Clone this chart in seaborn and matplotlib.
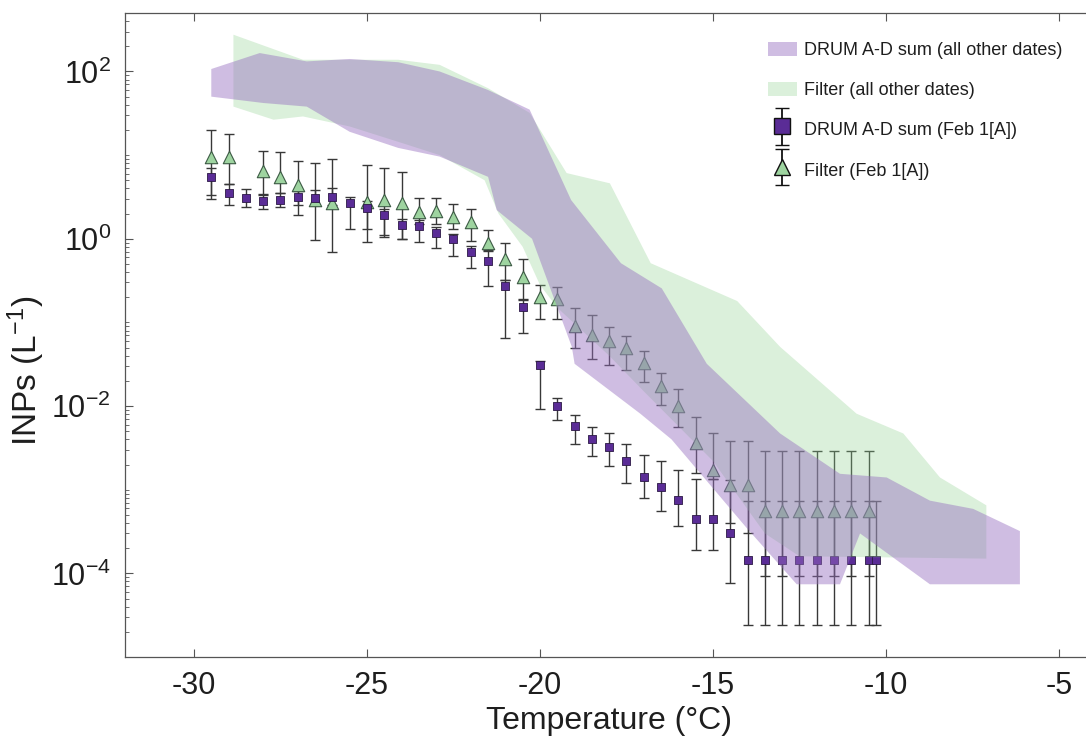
import numpy as np
import pandas as pd
import matplotlib
matplotlib.use("Agg")
import matplotlib.pyplot as plt
import seaborn as sns
from matplotlib.patches import Patch, Rectangle
from matplotlib.container import ErrorbarContainer
from matplotlib.legend_handler import HandlerPatch, HandlerErrorbar
from matplotlib.ticker import FixedLocator, LogLocator, NullFormatter, LogFormatterSciNotation

# ---------------- data ----------------
# DRUM A-D sum (Feb 1[A]) : temperature, value, lower, upper
drum_T = [-29.5, -29, -28.5, -28, -27.5, -27, -26.5, -26, -25.5, -25, -24.5, -24, -23.5, -23,
          -22.5, -22, -21.5, -21, -20.5, -20, -19.5, -19, -18.5, -18, -17.5, -17, -16.5, -16,
          -15.5, -15, -14.5, -14, -13.5, -13, -12.5, -12, -11.5, -11, -10.5, -10.3]
drum_v = [5.5, 3.5, 3.1, 2.8, 2.9, 3.2, 3.1, 3.2, 2.7, 2.35, 1.94, 1.47, 1.42, 1.18,
          0.98, 0.70, 0.54, 0.27, 0.153, 0.0307, 0.0099, 0.0058, 0.0040, 0.0032, 0.0022, 0.0014, 0.00107, 0.00076,
          0.00045, 0.00045, 0.0003, 0.000145, 0.000145, 0.000145, 0.000145, 0.000145, 0.000145, 0.000145, 0.000145, 0.000145]
drum_lo = [3.3, 2.5, 2.4, 2.3, 2.4, 2.5, 2.5, 2.5, 1.3, 1.3, 1.06, 0.98, 0.92, 0.77,
           0.62, 0.45, 0.27, 0.065, 0.074, 0.0093, 0.0069, 0.0035, 0.0025, 0.0019, 0.0012, 0.00079, 0.00056, 0.00037,
           0.00019, 0.00019, 7.6e-5, 2.4e-5, 2.4e-5, 2.4e-5, 2.4e-5, 2.4e-5, 2.4e-5, 2.4e-5, 2.4e-5, 2.4e-5]
drum_hi = [7.1, 4.5, 3.9, 3.4, 3.5, 3.7, 3.8, 4.0, 3.2, 2.8, 2.3, 1.72, 1.67, 1.37,
           1.14, 0.82, 0.72, 0.32, 0.185, 0.035, 0.0125, 0.0079, 0.0056, 0.0048, 0.0035, 0.0026, 0.0022, 0.00174,
           0.00135, 0.00135, 0.0013, 0.00074, 0.00074, 0.00074, 0.00074, 0.00074, 0.00074, 0.00074, 0.00074, 0.00074]

# Filter (Feb 1[A])
filt_T = [-29.5, -29, -28, -27.5, -27, -26.5, -26, -25, -24.5, -24, -23.5, -23, -22.5, -22,
          -21.5, -21, -20.5, -20, -19.5, -19, -18.5, -18, -17.5, -17, -16.5, -16, -15.5, -15,
          -14.5, -14, -13.5, -13, -12.5, -12, -11.5, -11, -10.5]
filt_v = [9.6, 9.6, 6.5, 5.5, 4.4, 2.9, 2.65, 2.77, 2.9, 2.65, 2.1, 2.15, 1.83, 1.6,
          0.9, 0.57, 0.345, 0.199, 0.188, 0.09, 0.0716, 0.06, 0.049, 0.033, 0.0172, 0.0099, 0.00365, 0.00173,
          0.00114, 0.00114, 0.00055, 0.00055, 0.00055, 0.00055, 0.00055, 0.00055, 0.00055]
filt_lo = [3.0, 4.5, 3.3, 3.5, 1.9, 0.96, 0.70, 0.92, 1.1, 0.98, 1.5, 1.5, 1.3, 0.95,
           0.73, 0.32, 0.19, 0.11, 0.111, 0.049, 0.037, 0.031, 0.027, 0.0194, 0.0104, 0.0056, 0.0016, 0.00135,
           0.0004, 0.0003, 9.4e-5, 9.4e-5, 9.4e-5, 9.4e-5, 9.4e-5, 9.4e-5, 9.4e-5]
filt_hi = [20, 18, 11.2, 11, 8.6, 8.0, 8.9, 7.6, 7.0, 6.2, 3.05, 3.05, 2.58, 2.25,
           1.28, 0.88, 0.58, 0.28, 0.266, 0.147, 0.122, 0.088, 0.069, 0.046, 0.0248, 0.0158, 0.0074, 0.0048,
           0.0038, 0.0038, 0.0029, 0.0029, 0.0029, 0.0029, 0.0029, 0.0029, 0.0029]

# DRUM A-D sum (all other dates) envelope
drum_band_up_T = [-29.5, -28.1, -26.74, -25.5, -24.1, -22.9, -21.5, -20.3, -19.1, -17.66, -16.48,
                  -15.18, -13.06, -11.33, -9.98, -8.73, -7.48, -6.13]
drum_band_up_v = [107, 166, 132, 141, 129, 100, 60, 35, 2.9, 0.51, 0.255,
                  0.032, 0.0047, 0.00155, 0.0014, 0.00074, 0.00059, 0.00032]
drum_band_lo_T = [-29.5, -28.0, -26.74, -25.5, -24.1, -22.9, -21.5, -21.25, -20.23, -19.08, -19.0,
                  -17.1, -16.2, -14.03, -12.58, -11.33, -10.75, -8.73, -6.13]
drum_band_lo_v = [50, 42, 38, 19, 12.2, 9.6, 5.5, 2.2, 1.0, 0.051, 0.032,
                  0.0081, 0.0040, 0.00035, 7.4e-5, 7.4e-5, 0.0003, 7.4e-5, 7.4e-5]

# Filter (all other dates) envelope
filt_band_up_T = [-28.86, -26.85, -24.1, -22.9, -21.5, -20.3, -19.23, -17.98, -16.8, -14.3,
                  -13.06, -10.85, -9.5, -8.44, -7.1]
filt_band_up_v = [275, 138, 138, 120, 63, 32, 6.1, 4.6, 0.51, 0.18,
                  0.051, 0.0081, 0.0047, 0.0014, 0.00065]
filt_band_lo_T = [-28.86, -27.7, -26.85, -25.5, -24.0, -22.9, -21.6, -21.2, -20.5, -20.0,
                  -19.5, -18.0, -17.0, -15.0, -13.5, -12.5, -7.1]
filt_band_lo_v = [38, 26.5, 29, 22, 14, 10, 5.0, 2.0, 0.8, 0.28,
                  0.15, 0.04, 0.015, 0.0022, 0.0003, 0.00016, 0.00015]

x_ticks = [-30, -25, -20, -15, -10, -5]
y_ticks = [1e-4, 1e-2, 1e0, 1e2]
labels = ["DRUM A-D sum (all other dates)", "Filter (all other dates)",
          "DRUM A-D sum (Feb 1[A])", "Filter (Feb 1[A])"]

# ---------------- style ----------------
sns.set_theme(style="ticks")
plt.rcParams["font.family"] = ["Liberation Sans", "DejaVu Sans"]
plt.rcParams["mathtext.fontset"] = "custom"
plt.rcParams["mathtext.rm"] = "Liberation Sans"
plt.rcParams["mathtext.it"] = "Liberation Sans:italic"
plt.rcParams["mathtext.bf"] = "Liberation Sans:bold"
plt.rcParams["axes.unicode_minus"] = False

PURPLE_BAND = (0.59, 0.43, 0.75)
GREEN_BAND = (0.56, 0.82, 0.56)
SQ_FACE = "#5a2c96"
SQ_EDGE = "#2b1845"
TRI_FACE = "#9ed4a0"
TRI_EDGE = "#3c5a44"
BAR = "#383838"
TXT = "#1e1e1e"

W, H = 1086, 741
fig = plt.figure(figsize=(W / 100, H / 100), dpi=100)
xmin, xmax = -32, -4
px_deg = 34.6
left_px = 194 - (-30 - xmin) * px_deg
right_px = 194 + (xmax + 30) * px_deg
top_px, bot_px = 13, 657
ax = fig.add_axes([left_px / W, (H - bot_px) / H, (right_px - left_px) / W, (bot_px - top_px) / H])

drum = pd.DataFrame({"T": drum_T, "v": drum_v, "lo": drum_lo, "hi": drum_hi})
filt = pd.DataFrame({"T": filt_T, "v": filt_v, "lo": filt_lo, "hi": filt_hi})

# error bars
ax.errorbar(filt["T"], filt["v"], yerr=[filt["v"] - filt["lo"], filt["hi"] - filt["v"]],
            fmt="none", ecolor=BAR, elinewidth=1.0, capsize=3.6, capthick=1.0, zorder=1)
ax.errorbar(drum["T"], drum["v"], yerr=[drum["v"] - drum["lo"], drum["hi"] - drum["v"]],
            fmt="none", ecolor=BAR, elinewidth=1.0, capsize=3.6, capthick=1.0, zorder=1)

# markers
sns.scatterplot(data=filt, x="T", y="v", marker="^", s=80, color=TRI_FACE,
                edgecolor=TRI_EDGE, linewidth=0.8, ax=ax, zorder=2, legend=False)
sns.scatterplot(data=drum, x="T", y="v", marker="s", s=36, color=SQ_FACE,
                edgecolor=SQ_EDGE, linewidth=0.6, ax=ax, zorder=2.5, legend=False)

# envelopes (drawn over markers, semi-transparent)
ax.fill(np.concatenate([filt_band_up_T, filt_band_lo_T[::-1]]),
        np.concatenate([filt_band_up_v, filt_band_lo_v[::-1]]),
        color=GREEN_BAND, alpha=0.32, lw=0, zorder=3)
ax.fill(np.concatenate([drum_band_up_T, drum_band_lo_T[::-1]]),
        np.concatenate([drum_band_up_v, drum_band_lo_v[::-1]]),
        color=PURPLE_BAND, alpha=0.45, lw=0, zorder=4)

# axes
ax.set_yscale("log")
ax.set_xlim(xmin, xmax)
ax.set_ylim(1e-5, 500)
ax.xaxis.set_major_locator(FixedLocator(x_ticks))
ax.yaxis.set_major_locator(FixedLocator(y_ticks))
ax.yaxis.set_major_formatter(LogFormatterSciNotation())
ax.yaxis.set_minor_locator(LogLocator(base=10, subs=np.arange(1, 10), numticks=30))
ax.yaxis.set_minor_formatter(NullFormatter())
ax.tick_params(axis="both", which="major", direction="in", length=6, width=0.8,
               top=True, right=True, labelsize=22, colors="#555555", labelcolor=TXT, pad=10)
ax.tick_params(axis="y", which="minor", direction="in", length=3, width=0.6,
               right=True, colors="#555555")
ax.tick_params(axis="x", which="minor", bottom=False, top=False)
for s in ax.spines.values():
    s.set_color("#555555")
    s.set_linewidth(0.9)

ax.set_xlabel("Temperature (\u00b0C)", fontsize=23, color=TXT, labelpad=4)
ax.set_ylabel("INPs (L$^{\\mathregular{-1}}$)", fontsize=24, color=TXT, labelpad=2)
ax.yaxis.set_label_coords(47 / W, 0.5, transform=fig.transFigure)

# legend
def short_patch(legend, orig_handle, xdescent, ydescent, width, height, fontsize):
    h = height * 0.6
    return Rectangle((-xdescent, -ydescent + (height - h) / 2), width, h)

h1 = Patch(facecolor=PURPLE_BAND, alpha=0.45, lw=0)
h2 = Patch(facecolor=GREEN_BAND, alpha=0.32, lw=0)
h3 = ax.errorbar([-100], [1], yerr=[[0.5], [1]], fmt="s", ms=11, mfc=SQ_FACE, mec="#111111",
                 mew=1.0, ecolor="#111111", elinewidth=1.3, capsize=5, capthick=1.3)
h4 = ax.errorbar([-100], [1], yerr=[[0.5], [1]], fmt="^", ms=12, mfc=TRI_FACE, mec="#111111",
                 mew=1.0, ecolor="#111111", elinewidth=1.3, capsize=5, capthick=1.3)
ax.set_xlim(xmin, xmax)
leg = fig.legend([h1, h2, h3, h4], labels, loc="upper left",
                 bbox_to_anchor=(768 / W, 1 - 37 / H), bbox_transform=fig.transFigure,
                 frameon=False, fontsize=13, handlelength=1.6, handleheight=1.6,
                 handletextpad=0.4, labelspacing=0.95, borderpad=0, borderaxespad=0,
                 handler_map={Patch: HandlerPatch(patch_func=short_patch),
                              ErrorbarContainer: HandlerErrorbar(xerr_size=0.5, yerr_size=1.0)})
for t in leg.get_texts():
    t.set_color(TXT)

fig.savefig("out.png", dpi=100)
